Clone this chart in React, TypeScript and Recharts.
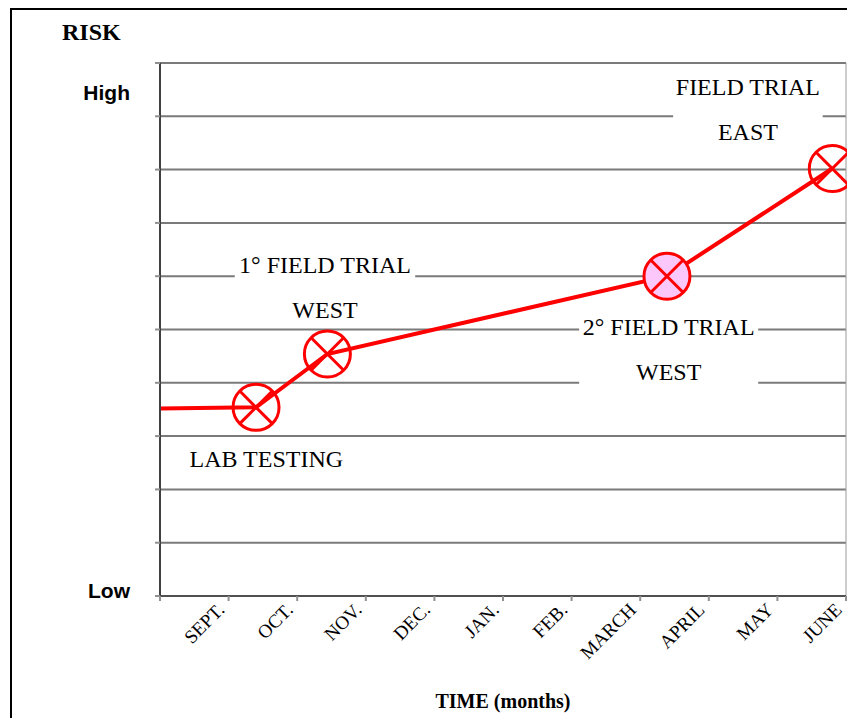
import {
    LineChart,
    Line,
    XAxis,
    YAxis,
    CartesianGrid,
    ReferenceArea,
    ReferenceLine,
} from "recharts";

// months shown under ticks 1..10 (tick 0 is the origin, no label)
const months = ["SEPT.", "OCT.", "NOV.", "DEC.", "JAN.", "FEB.", "MARCH", "APRIL", "MAY", "JUNE"];
const timeTicks = [0, 1, 2, 3, 4, 5, 6, 7, 8, 9, 10];
const riskTicks = [0, 1, 2, 3, 4, 5, 6, 7, 8, 9, 10];
const riskNames = ["Low", "High"];
const riskNameTicks = [0, 10];

// risk path
const timePos = [0, 1.4, 2.44, 7.39, 9.8];
const riskVal = [3.52, 3.54, 4.54, 6.0, 8.02];
const hasMarker = [false, true, true, true, true];
const highlighted = [false, false, false, true, false];

// annotation boxes (data units)
const notes = [
    { lines: ["1° FIELD TRIAL", "WEST"], x1: 1.09, x2: 3.72, y1: 5.14, y2: 6.51 },
    { lines: ["2° FIELD TRIAL", "WEST"], x1: 6.11, x2: 8.72, y1: 3.83, y2: 5.35 },
    { lines: ["FIELD TRIAL", "EAST"], x1: 7.48, x2: 9.66, y1: 8.18, y2: 9.85 },
    { lines: ["LAB TESTING"], x1: 0.36, x2: 2.74, y1: 2.27, y2: 2.87 },
];

const chartData = timePos.map((t, i) => ({ t, risk: riskVal[i] }));

const serif = "'Liberation Serif', 'Times New Roman', serif";
const sans = "'Liberation Sans', Arial, sans-serif";
const nameShift = [2, 37];

function MonthTick(props: any) {
    const { x, y, payload } = props;
    const name = months[payload.value - 1];
    if (!name) return <g />;
    const tx = x - 3;
    const ty = y + 8;
    return (
        <text
            x={tx}
            y={ty}
            transform={`rotate(-45 ${tx} ${ty})`}
            textAnchor="end"
            fontFamily={serif}
            fontSize={19}
            fill="#000"
        >
            {name}
        </text>
    );
}

function RiskTick(props: any) {
    const { x, y, payload } = props;
    const i = riskNameTicks.indexOf(payload.value);
    if (i < 0) return <g />;
    return (
        <text x={x} y={y + nameShift[i]} textAnchor="end" fontFamily={sans} fontWeight="bold" fontSize={21} fill="#000">
            {riskNames[i]}
        </text>
    );
}

function RiskMarker(props: any) {
    const { cx, cy, index } = props;
    if (!hasMarker[index]) return <g key={`m${index}`} />;
    const r = 23;
    const a = r * 0.707;
    return (
        <g key={`m${index}`}>
            <circle cx={cx} cy={cy} r={r} fill={highlighted[index] ? "#fcc8fc" : "none"} stroke="#ff0000" strokeWidth={3} />
            <line x1={cx - a} y1={cy - a} x2={cx + a} y2={cy + a} stroke="#ff0000" strokeWidth={3} />
            <line x1={cx - a} y1={cy + a} x2={cx + a} y2={cy - a} stroke="#ff0000" strokeWidth={3} />
        </g>
    );
}

function noteShape(lines: string[]) {
    return (p: any) => (
        <g>
            <rect x={p.x} y={p.y} width={p.width} height={p.height} fill="#fff" />
            {lines.map((s, i) => (
                <text
                    key={s}
                    x={p.x + p.width / 2}
                    y={p.y + 16 + i * 45}
                    textAnchor="middle"
                    dominantBaseline="central"
                    fontFamily={serif}
                    fontSize={24}
                    fill="#000"
                >
                    {s}
                </text>
            ))}
        </g>
    );
}

export default function App() {
    return (
        <div style={{ position: "fixed", left: 0, top: 0, width: 847, height: 718, overflow: "hidden", background: "#fff" }}>
            <div
                style={{
                    position: "absolute",
                    left: 10,
                    top: 8,
                    width: 1000,
                    height: 1000,
                    borderLeft: "2px solid #000",
                    borderTop: "2px solid #000",
                }}
            />
            <div
                style={{
                    position: "absolute",
                    left: 62,
                    top: 20,
                    fontFamily: serif,
                    fontWeight: "bold",
                    fontSize: 24,
                    lineHeight: "24px",
                    color: "#000",
                }}
            >
                RISK
            </div>
            <div style={{ position: "absolute", left: 0, top: 0 }}>
                <LineChart width={847} height={718} data={chartData} margin={{ top: 63, right: 1, bottom: 0, left: 0 }}>
                    <CartesianGrid vertical={false} stroke="#7a7a7a" strokeWidth={2} />
                    <XAxis
                        dataKey="t"
                        type="number"
                        domain={[0, 10]}
                        ticks={timeTicks}
                        interval={0}
                        height={122}
                        tickSize={5}
                        tickMargin={2}
                        axisLine={{ stroke: "#505050", strokeWidth: 2 }}
                        tickLine={{ stroke: "#909090", strokeWidth: 2 }}
                        tick={MonthTick}
                        label={{
                            value: "TIME (months)",
                            position: "insideBottom",
                            offset: 10,
                            fill: "#000",
                            fontFamily: serif,
                            fontWeight: "bold",
                            fontSize: 20,
                        }}
                    />
                    <YAxis
                        type="number"
                        domain={[0, 10]}
                        ticks={riskTicks}
                        interval={0}
                        width={160}
                        tickSize={5}
                        tickMargin={25}
                        axisLine={{ stroke: "#404040", strokeWidth: 2 }}
                        tickLine={{ stroke: "#909090", strokeWidth: 2 }}
                        tick={RiskTick}
                    />
                    <ReferenceLine x={10} stroke="#9a9a9a" strokeWidth={1} />
                    {notes.map((n) => (
                        <ReferenceArea
                            key={n.lines[0]}
                            x1={n.x1}
                            x2={n.x2}
                            y1={n.y1}
                            y2={n.y2}
                            shape={noteShape(n.lines)}
                        />
                    ))}
                    <Line
                        dataKey="risk"
                        type="linear"
                        stroke="#ff0000"
                        strokeWidth={4}
                        dot={RiskMarker}
                        activeDot={false}
                        isAnimationActive={false}
                    />
                </LineChart>
            </div>
        </div>
    );
}
